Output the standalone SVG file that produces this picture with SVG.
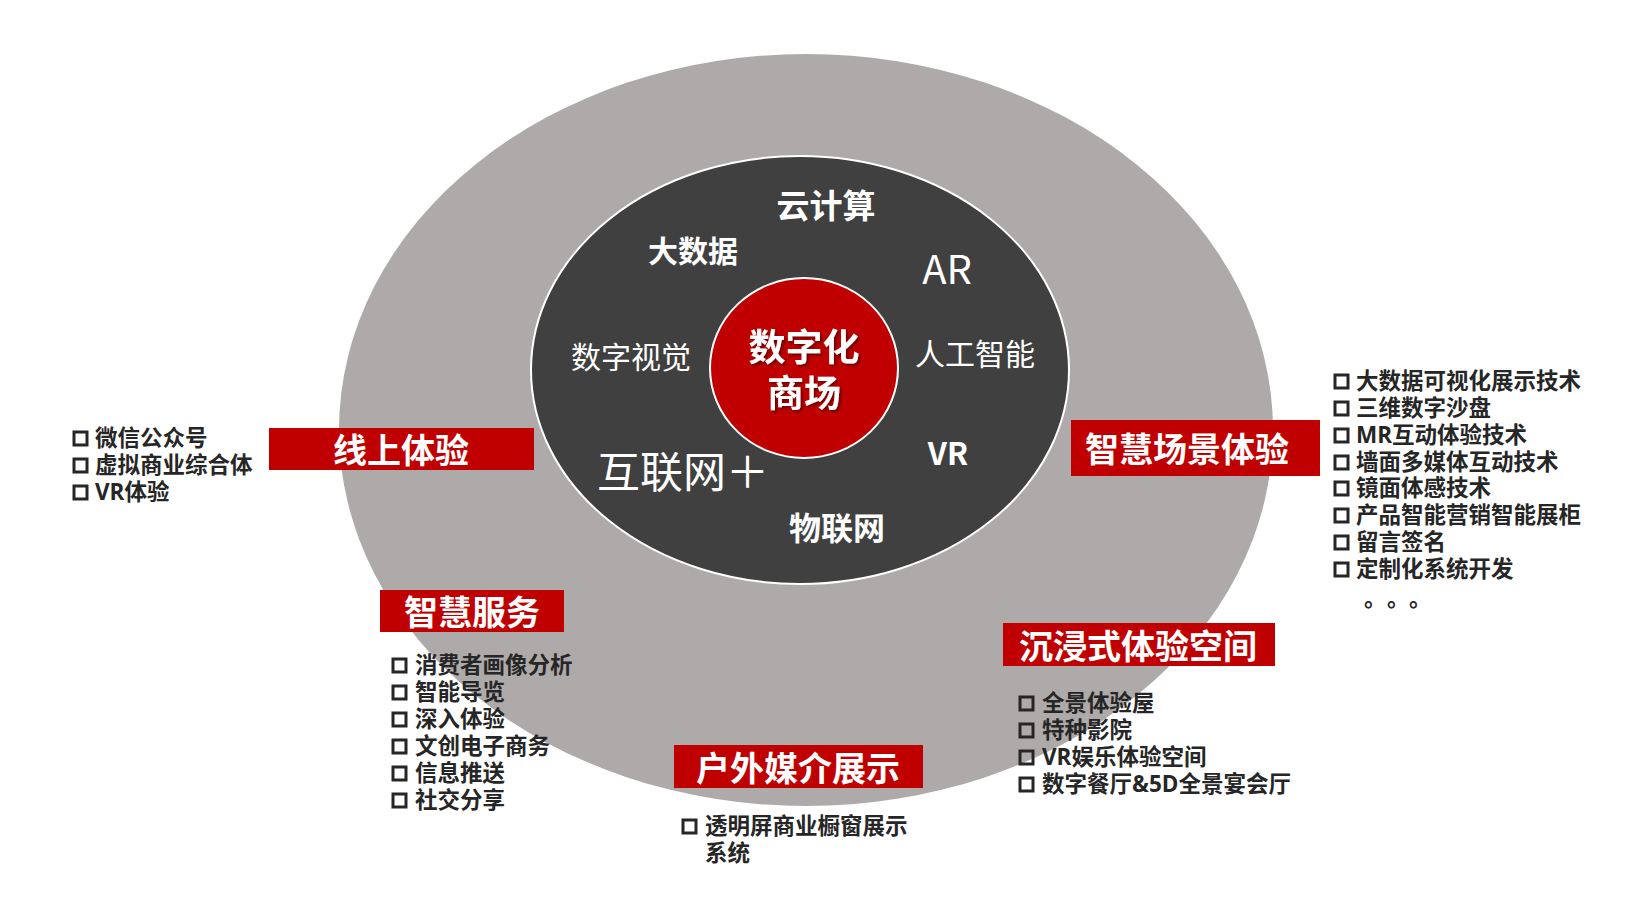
<svg xmlns="http://www.w3.org/2000/svg" width="1626" height="921" viewBox="0 0 1626 921">
<defs>
<style>
.t{font-family:"Noto Sans CJK SC","Noto Sans",sans-serif;dominant-baseline:central;}
.w{fill:#fff;}
.b{font-weight:bold;}
.lbl{fill:#fff;font-weight:bold;font-size:34px;text-anchor:middle;}
.li{font-family:"Open Sans","Noto Sans CJK SC",sans-serif;fill:#262626;font-weight:bold;font-size:22.5px;}
.box{fill:#c00000;}
.cb{fill:none;stroke:#262626;stroke-width:3;}
</style>
<filter id="sh" x="-20%" y="-20%" width="140%" height="140%">
<feDropShadow dx="2" dy="2" stdDeviation="1.5" flood-color="#000" flood-opacity="0.45"/>
</filter>
</defs>
<rect width="1626" height="921" fill="#fff"/>
<g id="outer-ring">
<ellipse cx="806" cy="430" rx="467" ry="376" fill="#aeaaaa"/>
</g>
<g id="inner-ring">
<ellipse cx="800" cy="370" rx="269" ry="214" fill="#404040" stroke="#fff" stroke-width="2"/>
<text class="t w b" x="826" y="204" font-size="33" text-anchor="middle">云计算</text>
<text class="t w b" x="693" y="249" font-size="30" text-anchor="middle">大数据</text>
<text class="t w" x="947" y="267" font-size="40" text-anchor="middle">AR</text>
<text class="t w" x="631" y="355" font-size="30" text-anchor="middle">数字视觉</text>
<text class="t w" x="975" y="352" font-size="30" text-anchor="middle">人工智能</text>
<text class="t w" x="597" y="469" font-size="43">互联网＋</text>
<text class="t w b" x="948" y="451" font-size="31" text-anchor="middle">VR</text>
<text class="t w b" x="837" y="526" font-size="32" text-anchor="middle">物联网</text>
</g>
<g id="core">
<ellipse cx="804" cy="368" rx="94" ry="90" fill="#c00000" stroke="#fff" stroke-width="2"/>
<g filter="url(#sh)">
<text class="t w b" x="804" y="345" font-size="37" text-anchor="middle">数字化</text>
<text class="t w b" x="804" y="391" font-size="37" text-anchor="middle">商场</text>
</g>
</g>
<g id="online">
<rect class="box" x="269" y="428" width="265" height="42"/>
<text class="t lbl" x="401" y="448">线上体验</text>
<rect class="cb" x="74" y="432" width="13" height="13"/>
<text class="t li" x="95" y="437">微信公众号</text>
<rect class="cb" x="74" y="459" width="13" height="13"/>
<text class="t li" x="95" y="464">虚拟商业综合体</text>
<rect class="cb" x="74" y="486" width="13" height="13"/>
<text class="t li" x="95" y="491">VR体验</text>
</g>
<g id="scene">
<rect class="box" x="1071" y="420" width="249" height="56"/>
<text class="t lbl" x="1187" y="447">智慧场景体验</text>
<rect class="cb" x="1335" y="375" width="13" height="13"/>
<text class="t li" x="1356" y="380">大数据可视化展示技术</text>
<rect class="cb" x="1335" y="402" width="13" height="13"/>
<text class="t li" x="1356" y="407">三维数字沙盘</text>
<rect class="cb" x="1335" y="429" width="13" height="13"/>
<text class="t li" x="1356" y="434">MR互动体验技术</text>
<rect class="cb" x="1335" y="456" width="13" height="13"/>
<text class="t li" x="1356" y="461">墙面多媒体互动技术</text>
<rect class="cb" x="1335" y="482" width="13" height="13"/>
<text class="t li" x="1356" y="487">镜面体感技术</text>
<rect class="cb" x="1335" y="509" width="13" height="13"/>
<text class="t li" x="1356" y="514">产品智能营销智能展柜</text>
<rect class="cb" x="1335" y="536" width="13" height="13"/>
<text class="t li" x="1356" y="541">留言签名</text>
<rect class="cb" x="1335" y="563" width="13" height="13"/>
<text class="t li" x="1356" y="568">定制化系统开发</text>
<text class="t li" x="1364 1387 1409" y="597">。。。</text>
</g>
<g id="service">
<rect class="box" x="380" y="590" width="184" height="42"/>
<text class="t lbl" x="472" y="610">智慧服务</text>
<rect class="cb" x="393" y="659" width="13" height="13"/>
<text class="t li" x="415" y="664">消费者画像分析</text>
<rect class="cb" x="393" y="686" width="13" height="13"/>
<text class="t li" x="415" y="691">智能导览</text>
<rect class="cb" x="393" y="713" width="13" height="13"/>
<text class="t li" x="415" y="718">深入体验</text>
<rect class="cb" x="393" y="740" width="13" height="13"/>
<text class="t li" x="415" y="745">文创电子商务</text>
<rect class="cb" x="393" y="767" width="13" height="13"/>
<text class="t li" x="415" y="772">信息推送</text>
<rect class="cb" x="393" y="794" width="13" height="13"/>
<text class="t li" x="415" y="799">社交分享</text>
</g>
<g id="immersive">
<rect class="box" x="1003" y="623" width="272" height="43"/>
<text class="t lbl" x="1138" y="644">沉浸式体验空间</text>
<rect class="cb" x="1020" y="697" width="13" height="13"/>
<text class="t li" x="1042" y="702">全景体验屋</text>
<rect class="cb" x="1020" y="724" width="13" height="13"/>
<text class="t li" x="1042" y="729">特种影院</text>
<rect class="cb" x="1020" y="751" width="13" height="13"/>
<text class="t li" x="1042" y="756">VR娱乐体验空间</text>
<rect class="cb" x="1020" y="778" width="13" height="13"/>
<text class="t li" x="1042" y="783">数字餐厅&amp;5D全景宴会厅</text>
</g>
<g id="outdoor">
<rect class="box" x="674" y="745" width="249" height="43"/>
<text class="t lbl" x="798" y="766">户外媒介展示</text>
<rect class="cb" x="683" y="820" width="13" height="13"/>
<text class="t li" x="705" y="825">透明屏商业橱窗展示</text>
<text class="t li" x="705" y="852">系统</text>
</g>
</svg>
